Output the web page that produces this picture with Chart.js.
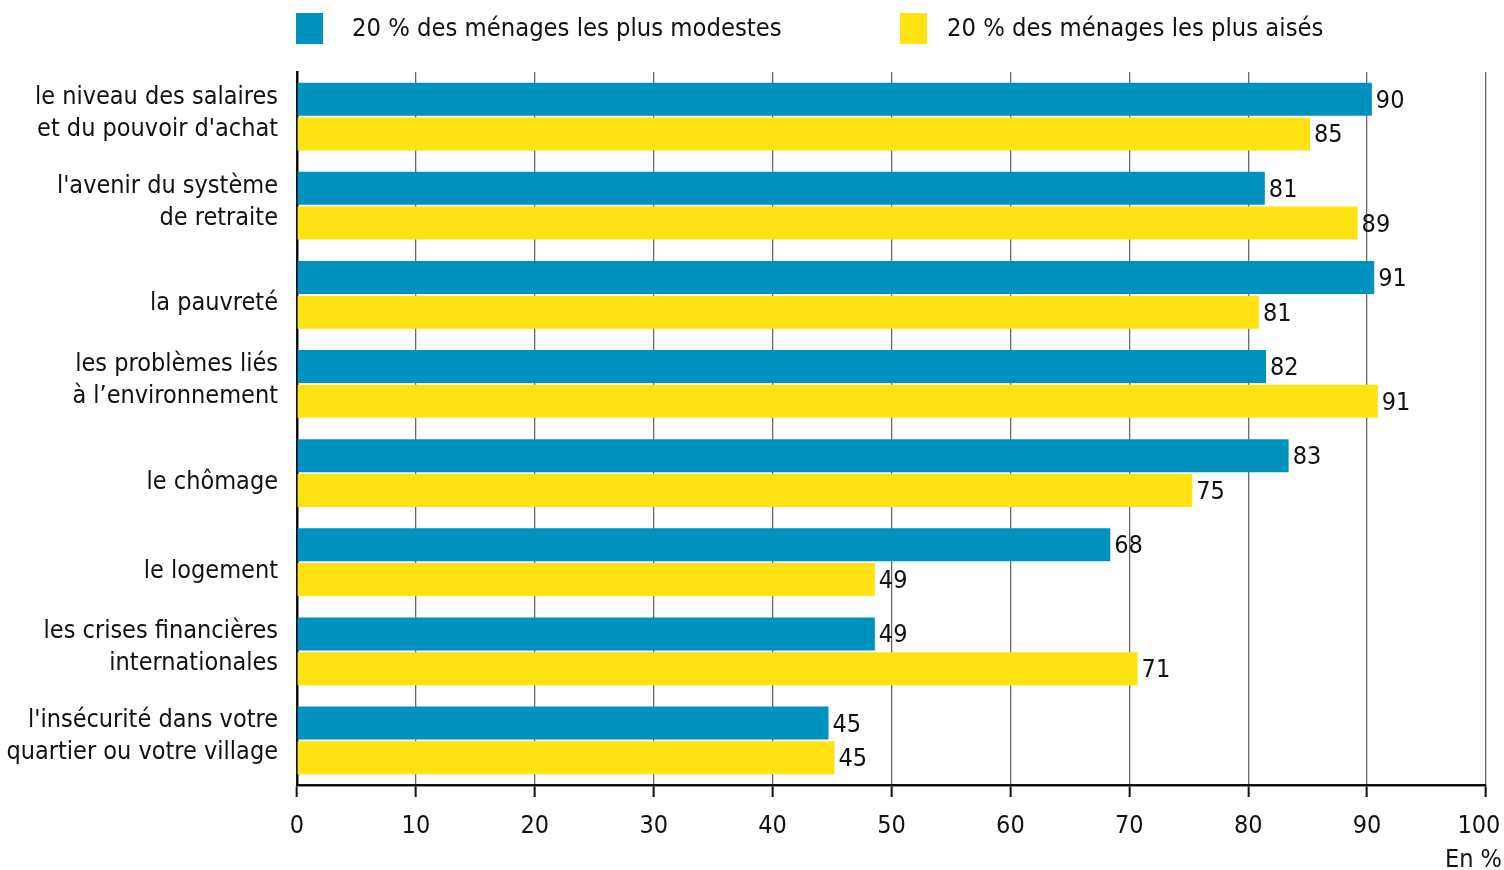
<!DOCTYPE html>
<html>
<head>
<meta charset="utf-8">
<script src="https://cdn.jsdelivr.net/npm/chart.js@4/dist/chart.umd.min.js"></script>
<style>
  html, body { margin: 0; padding: 0; background: #fff; }
  #wrap { position: relative; width: 1504px; height: 870px; }
  canvas { position: absolute; left: 0; top: 0; }
  .box { position: absolute; top: 13px; width: 27px; height: 31px; }
  .legtxt { position: absolute; top: 12px; line-height: 32px; font-family: 'Liberation Sans Narrow', 'DejaVu Sans Condensed', sans-serif; font-size: 25.3px; color: #111; white-space: nowrap; }
  .enpct { position: absolute; right: 2px; top: 844px; font-family: 'Liberation Sans Narrow', 'DejaVu Sans Condensed', sans-serif; font-size: 25px; color: #111; }
</style>
</head>
<body>
<div id="wrap">
  <canvas id="c" width="1504" height="870"></canvas>
  <div class="box" style="left:296px;background:#0092BF"></div>
  <div class="legtxt" id="l1" style="left:352px"></div>
  <div class="box" style="left:900px;background:#FFE212"></div>
  <div class="legtxt" id="l2" style="left:947px"></div>
  <div class="enpct">En %</div>
</div>
<script>
const categories = [
  ["le niveau des salaires", "et du pouvoir d'achat"],
  ["l'avenir du système", "de retraite"],
  ["la pauvreté"],
  ["les problèmes liés", "à l’environnement"],
  ["le chômage"],
  ["le logement"],
  ["les crises financières", "internationales"],
  ["l'insécurité dans votre", "quartier ou votre village"]
];
const seriesNames = ["20 % des ménages les plus modestes", "20 % des ménages les plus aisés"];
const modestes = [90.4, 81.4, 90.6, 81.5, 83.4, 68.4, 48.6, 44.7];
const aises    = [85.2, 89.2, 80.9, 90.9, 75.3, 48.6, 70.7, 45.2];
const xTicks = [0, 10, 20, 30, 40, 50, 60, 70, 80, 90, 100];

document.getElementById('l1').textContent = seriesNames[0];
document.getElementById('l2').textContent = seriesNames[1];

const FONT = "'Liberation Sans Narrow', 'DejaVu Sans Condensed', sans-serif";

const valueLabels = {
  id: 'valueLabels',
  afterDatasetsDraw(chart) {
    const ctx = chart.ctx;
    ctx.save();
    ctx.font = '25px ' + FONT;
    ctx.fillStyle = '#111';
    ctx.textAlign = 'left';
    ctx.textBaseline = 'middle';
    chart.data.datasets.forEach((ds, di) => {
      const meta = chart.getDatasetMeta(di);
      meta.data.forEach((el, i) => {
        ctx.fillText(String(Math.round(ds.data[i])), el.x + 4, el.y + 2);
      });
    });
    // category labels on the left
    const ys = chart.scales.y;
    ctx.textAlign = 'right';
    chart.data.labels.forEach((lines, i) => {
      const yc = ys.getPixelForTick(i);
      if (lines.length === 1) {
        ctx.fillText(lines[0], ys.right - 19, yc + 9);
      } else {
        lines.forEach((ln, k) => {
          ctx.fillText(ln, ys.right - 19, yc - 3.5 + (k - (lines.length - 1) / 2) * 32);
        });
      }
    });
    ctx.restore();
  }
};

new Chart(document.getElementById('c'), {
  type: 'bar',
  data: {
    labels: categories,
    datasets: [
      { label: seriesNames[0], data: modestes, backgroundColor: '#0092BF', categoryPercentage: 0.78, barPercentage: 0.95 },
      { label: seriesNames[1], data: aises, backgroundColor: '#FFE212', categoryPercentage: 0.78, barPercentage: 0.95 }
    ]
  },
  options: {
    indexAxis: 'y',
    responsive: false,
    animation: false,
    layout: { padding: { top: 72, right: 18, left: 0, bottom: 0 } },
    plugins: { legend: { display: false }, tooltip: { enabled: false } },
    scales: {
      x: {
        min: 0, max: 100,
        afterBuildTicks(scale) { scale.ticks = xTicks.map(v => ({ value: v })); },
        afterFit(scale) { scale.height = 85; scale.paddingLeft = 0; scale.paddingRight = 0; },
        grid: { color: '#6a6a6a', lineWidth: 1.3, tickColor: '#111', tickLength: 12, tickWidth: 2 },
        border: { display: true, color: '#111', width: 2.5 },
        ticks: {
          color: '#111', font: { family: FONT, size: 25 }, padding: 14, maxRotation: 0,
          callback: (v) => v === 100 ? '100\u2007' : String(v)
        }
      },
      y: {
        afterFit(scale) { scale.width = 297; scale.paddingTop = 0; scale.paddingBottom = 0; },
        grid: { display: false, drawTicks: false },
        border: { display: true, color: '#111', width: 2.5 },
        ticks: { display: false }
      }
    }
  },
  plugins: [valueLabels]
});
</script>
</body>
</html>
